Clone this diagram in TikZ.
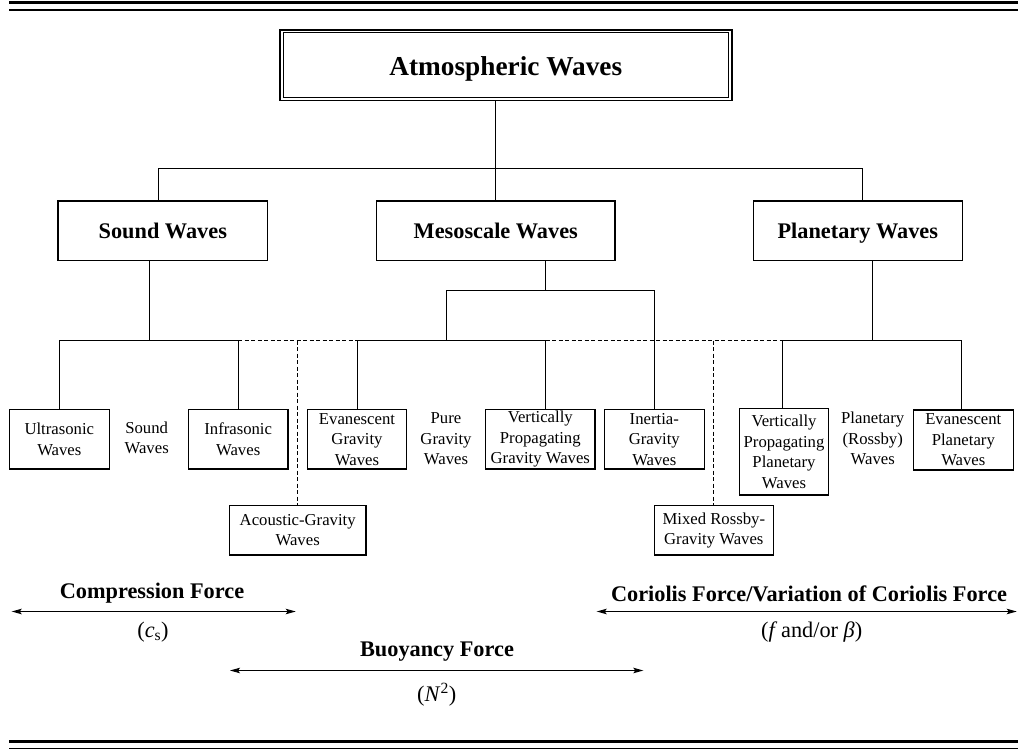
\documentclass[tikz,border=0pt]{standalone}
\usepackage{fontspec}
\setmainfont{Liberation Serif}
\usetikzlibrary{arrows.meta}
\begin{document}
\begin{tikzpicture}[x=1pt,y=-1pt,
  box/.style={draw, line width=1.2pt, inner sep=0pt, align=center},
  sz/.style 2 args={minimum width=#1pt, minimum height=#2pt},
  leaf/.style={box, font=\fontsize{16.7}{20.5}\selectfont},
  mid/.style={box, font=\bfseries\fontsize{22.3}{26}\selectfont, text height=15pt, text depth=0pt},
  lab/.style={inner sep=0pt, align=center, font=\fontsize{16.7}{20.5}\selectfont},
  force/.style={inner sep=0pt, anchor=base, font=\bfseries\fontsize{22.3}{26}\selectfont},
  param/.style={inner sep=0pt, anchor=base, font=\fontsize{22.3}{26}\selectfont},
  conn/.style={line width=1pt},
  dconn/.style={line width=1pt, dash pattern=on 4pt off 2.5pt},
  rng/.style={line width=1pt, {Stealth[length=10pt,width=5.5pt,inset=2pt]}-{Stealth[length=10pt,width=5.5pt,inset=2pt]}},
  rule/.style={line width=#1pt}
]
\useasboundingbox (0,0) rectangle (1018,749);

% page rules
\coordinate (r1a) at (9,2.5);   \coordinate (r1b) at (1018,2.5);
\coordinate (r2a) at (9,10);    \coordinate (r2b) at (1018,10);
\coordinate (r3a) at (9,741.7); \coordinate (r3b) at (1018,741.7);
\coordinate (r4a) at (9,748.2); \coordinate (r4b) at (1018,748.2);
\draw[rule=2.4] (r1a) -- (r1b);
\draw[rule=1.6] (r2a) -- (r2b);
\draw[rule=2.6] (r3a) -- (r3b);
\draw[rule=1.4] (r4a) -- (r4b);

% title
\node[box, line width=1.7pt, sz={451.7}{70.7}, font=\bfseries\fontsize{27.3}{32}\selectfont, text height=21.4pt, text depth=0pt] (title) at (505.8,65.3) {Atmospheric Waves};
\draw[line width=0.8pt] ([shift={(3.8,-3.8)}]title.south west) rectangle ([shift={(-3.8,3.8)}]title.north east);

% level 1
\node[mid, sz={209.7}{59.7}] (sound) at (162.8,230.8) {Sound Waves};
\node[mid, sz={238.3}{59.7}] (meso) at (495.8,230.8) {Mesoscale Waves};
\node[mid, sz={209}{59.7}] (plan) at (857.8,230.8) {Planetary Waves};

% leaves
\node[leaf, sz={100}{59.7}] (ultra) at (59.3,439.2) {Ultrasonic\\Waves};
\node[lab] (sndw) at (146.7,438) {Sound\\Waves};
\node[leaf, sz={99.7}{59.7}] (infra) at (238.2,439.2) {Infrasonic\\Waves};
\node[leaf, sz={136.7}{49.3}] (acou) at (297.7,530.3) {Acoustic-Gravity\\Waves};
\node[leaf, sz={99.4}{59.7}] (evg) at (357,439.2) {Evanescent\\Gravity\\Waves};
\node[lab] (pure) at (446,438.8) {Pure\\Gravity\\Waves};
\node[leaf, sz={109.3}{59.7}] (vpg) at (540.3,439.2) {Vertically\\Propagating\\Gravity Waves};
\node[leaf, sz={100}{59.7}] (inertia) at (654.3,439.2) {Inertia-\\Gravity\\Waves};
\node[leaf, sz={119}{49.3}] (mixed) at (713.8,530.3) {Mixed Rossby-\\Gravity Waves};
\node[leaf, sz={89.4}{86.7}] (vpp) at (784,451.7) {Vertically\\Propagating\\Planetary\\Waves};
\node[lab] (rossby) at (872.7,438.8) {Planetary\\(Rossby)\\Waves};
\node[leaf, sz={100}{60}] (epw) at (963.3,440) {Evanescent\\Planetary\\Waves};

% top connectors
\coordinate (tl) at (158.5,168.5);
\coordinate (tr) at (862.5,168.5);
\draw[conn] (tl |- sound.north) -- (tl) -- (tr) -- (tr |- plan.north);
\draw[conn] (title.south -| meso.north) -- (meso.north);

% sound branch
\coordinate (sj) at (149.5,340.5);
\draw[conn] (sound.south -| sj) -- (sj);
\draw[conn] (ultra.north) -- (ultra.north |- sj) -- (infra.north |- sj) -- (infra.north);
\draw[dconn] (infra.north |- sj) -- (evg.north |- sj);
\draw[dconn] (acou.north |- sj) -- (acou.north);

% mesoscale branch
\coordinate (mj) at (545.5,290.5);
\coordinate (ml) at (446.5,290.5);
\coordinate (vx) at (545.5,340.5);
\draw[conn] (meso.south -| mj) -- (mj);
\draw[conn] (ml |- sj) -- (ml) -- (inertia.north |- mj) -- (inertia.north);
\draw[conn] (evg.north) -- (evg.north |- sj) -- (vx) -- (vx |- vpg.north);

% planetary branch
\coordinate (px) at (782.5,340.5);
\coordinate (pj) at (872.5,340.5);
\coordinate (pr) at (961.5,340.5);
\draw[dconn] (vx) -- (px);
\draw[dconn] (mixed.north |- sj) -- (mixed.north);
\draw[conn] (plan.south -| pj) -- (pj);
\draw[conn] (px |- vpp.north) -- (px) -- (pr) -- (pr |- epw.north);

% forces
\coordinate (c1) at (11.7,611.5);  \coordinate (c2) at (295.7,611.5);
\coordinate (b1) at (230,670.5);   \coordinate (b2) at (643.3,670.5);
\coordinate (f1) at (596.7,611.5); \coordinate (f2) at (1016.7,611.5);
\draw[rng] (c1) -- (c2);
\draw[rng] (b1) -- (b2);
\draw[rng] (f1) -- (f2);
\node[force] (cft) at (152,598.3) {Compression Force};
\node[param] (cfp) at (153,637.5) {(\textit{c}\textsubscript{s})};
\node[force] (bft) at (437,656) {Buoyancy Force};
\node[param] (bfp) at (436.7,701) {(\textit{N}\textsuperscript{2})};
\node[force] (fft) at (809,601.5) {Coriolis Force/Variation of Coriolis Force};
\node[param] (ffp) at (811.7,637.7) {(\textit{f}\,and/or \textit{β})};
\end{tikzpicture}
\end{document}
